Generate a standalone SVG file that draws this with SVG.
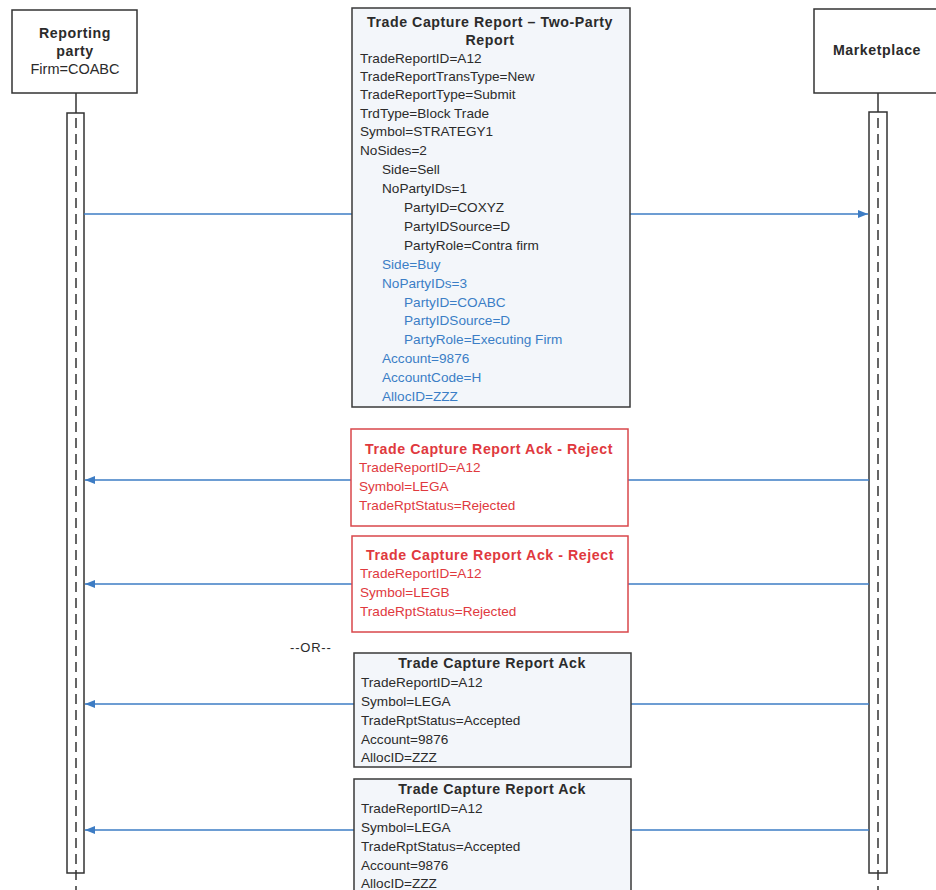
<svg xmlns="http://www.w3.org/2000/svg" width="936" height="890" viewBox="0 0 936 890">
<defs>
<style>
text{font-family:"Liberation Sans",Arial,sans-serif;font-size:13.6px;fill:#2b2b2b}
.b{font-weight:bold;font-size:14.2px;letter-spacing:0.55px}
.c{text-anchor:middle}
.blue{fill:#3b7ec6}
.red{fill:#e0393e}
.part{fill:#fff;stroke:#333;stroke-width:1.5}
.act{fill:#fff;stroke:#333;stroke-width:1.5}
.life{stroke:#333;stroke-width:1.5;stroke-dasharray:10,6;fill:none}
.msg{fill:#f3f6fa;stroke:#3a3a3a;stroke-width:1.5}
.rmsg{fill:#fff;stroke:#d9474b;stroke-width:1.5}
.conn{stroke:#3d7cc4;stroke-width:1.3;fill:none}
</style>
<marker id="ah" viewBox="0 0 10 10" refX="10" refY="5" markerWidth="10" markerHeight="10" markerUnits="userSpaceOnUse" orient="auto">
<path d="M0,1 L10,5 L0,9 z" fill="#3d7cc4"/>
</marker>
</defs>
<rect width="936" height="890" fill="#fff"/>

<g id="reporting-party">
<rect class="part" x="12" y="10" width="125" height="83"/>
<text class="b c" x="75" y="38">Reporting</text>
<text class="b c" x="75" y="56">party</text>
<text class="c" x="75" y="74" style="font-size:14.5px">Firm=COABC</text>
<line x1="76" y1="93" x2="76" y2="113" stroke="#333" stroke-width="1.5"/>
<rect class="act" x="67" y="113" width="17" height="760"/>
<line class="life" x1="76" y1="118" x2="76" y2="890"/>
</g>

<g id="marketplace">
<rect class="part" x="814" y="9" width="130" height="84"/>
<text class="b c" x="877" y="55">Marketplace</text>
<line x1="878" y1="93" x2="878" y2="112" stroke="#333" stroke-width="1.5"/>
<rect class="act" x="869" y="112" width="18" height="761"/>
<line class="life" x1="878" y1="118" x2="878" y2="890"/>
</g>

<g id="connectors">
<line class="conn" x1="84" y1="214" x2="868" y2="214" marker-end="url(#ah)"/>
<line class="conn" x1="869" y1="480" x2="85" y2="480" marker-end="url(#ah)"/>
<line class="conn" x1="869" y1="584" x2="85" y2="584" marker-end="url(#ah)"/>
<line class="conn" x1="869" y1="704" x2="85" y2="704" marker-end="url(#ah)"/>
<line class="conn" x1="869" y1="830" x2="85" y2="830" marker-end="url(#ah)"/>
</g>

<g id="msg-trade-capture-report">
<rect class="msg" x="352" y="8" width="278" height="399"/>
<text class="b c" x="490" y="27">Trade Capture Report – Two-Party</text>
<text class="b c" x="490" y="45">Report</text>
<text x="360" y="63">TradeReportID=A12</text>
<text x="360" y="81">TradeReportTransType=New</text>
<text x="360" y="99">TradeReportType=Submit</text>
<text x="360" y="118">TrdType=Block Trade</text>
<text x="360" y="136">Symbol=STRATEGY1</text>
<text x="360" y="155">NoSides=2</text>
<text x="382" y="174">Side=Sell</text>
<text x="382" y="193">NoPartyIDs=1</text>
<text x="404" y="212">PartyID=COXYZ</text>
<text x="404" y="231">PartyIDSource=D</text>
<text x="404" y="250">PartyRole=Contra firm</text>
<text class="blue" x="382" y="269">Side=Buy</text>
<text class="blue" x="382" y="288">NoPartyIDs=3</text>
<text class="blue" x="404" y="307">PartyID=COABC</text>
<text class="blue" x="404" y="325">PartyIDSource=D</text>
<text class="blue" x="404" y="344">PartyRole=Executing Firm</text>
<text class="blue" x="382" y="363">Account=9876</text>
<text class="blue" x="382" y="382">AccountCode=H</text>
<text class="blue" x="382" y="401">AllocID=ZZZ</text>
</g>

<g id="msg-ack-reject-lega">
<rect class="rmsg" x="351" y="429" width="277" height="97"/>
<text class="b c red" x="489" y="454">Trade Capture Report Ack - Reject</text>
<text class="red" x="359" y="472">TradeReportID=A12</text>
<text class="red" x="359" y="491">Symbol=LEGA</text>
<text class="red" x="359" y="510">TradeRptStatus=Rejected</text>
</g>

<g id="msg-ack-reject-legb">
<rect class="rmsg" x="352" y="536" width="276" height="96"/>
<text class="b c red" x="490" y="560">Trade Capture Report Ack - Reject</text>
<text class="red" x="360" y="578">TradeReportID=A12</text>
<text class="red" x="360" y="597">Symbol=LEGB</text>
<text class="red" x="360" y="616">TradeRptStatus=Rejected</text>
</g>

<text x="290" y="652" style="font-size:13px;letter-spacing:0.8px">--OR--</text>

<g id="msg-ack-accepted-1">
<rect class="msg" x="354" y="653" width="277" height="114"/>
<text class="b c" x="492" y="668">Trade Capture Report Ack</text>
<text x="361" y="687">TradeReportID=A12</text>
<text x="361" y="706">Symbol=LEGA</text>
<text x="361" y="725">TradeRptStatus=Accepted</text>
<text x="361" y="744">Account=9876</text>
<text x="361" y="762">AllocID=ZZZ</text>
</g>

<g id="msg-ack-accepted-2">
<rect class="msg" x="354" y="779" width="277" height="120"/>
<text class="b c" x="492" y="794">Trade Capture Report Ack</text>
<text x="361" y="813">TradeReportID=A12</text>
<text x="361" y="832">Symbol=LEGA</text>
<text x="361" y="851">TradeRptStatus=Accepted</text>
<text x="361" y="870">Account=9876</text>
<text x="361" y="888">AllocID=ZZZ</text>
</g>
</svg>
